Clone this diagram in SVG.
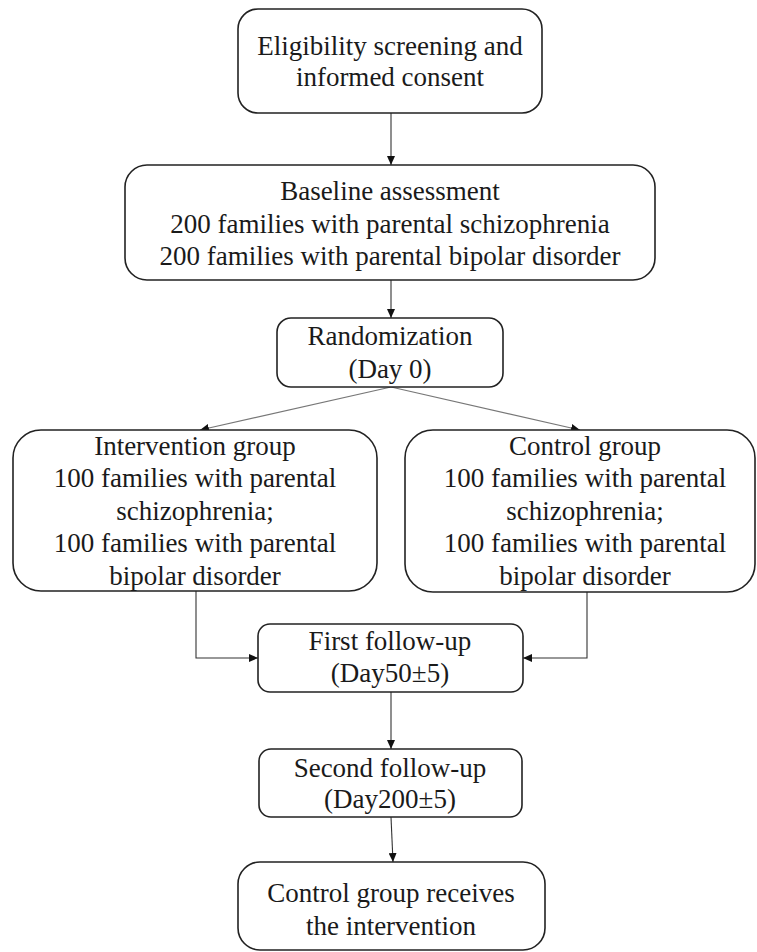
<svg xmlns="http://www.w3.org/2000/svg" width="757" height="952" viewBox="0 0 757 952">
<style>
  .box { fill: #ffffff; stroke: #222222; stroke-width: 1.6; }
  .t { font-family: "Liberation Serif", "Times New Roman", serif; font-size: 27px; fill: #1a1a1a; text-anchor: middle; }
  .c { fill: none; stroke: #333333; stroke-width: 1.1; marker-end: url(#ah); }
  .d { fill: none; stroke: #777777; stroke-width: 1.1; marker-end: url(#ah); }
</style>
<defs>
  <marker id="ah" markerUnits="userSpaceOnUse" markerWidth="10" markerHeight="8" refX="9" refY="4" orient="auto">
    <path d="M0,0 L9,4 L0,8 z" fill="#111111"/>
  </marker>
</defs>
<rect width="757" height="952" fill="#ffffff"/>

<g id="connectors">
  <line class="c" x1="391" y1="113" x2="391" y2="165"/>
  <line class="c" x1="391" y1="280" x2="391" y2="318"/>
  <line class="d" x1="391" y1="387" x2="200" y2="430"/>
  <line class="d" x1="391" y1="387" x2="580" y2="430"/>
  <polyline class="c" points="196,591 196,658 258,658"/>
  <polyline class="c" points="587,592 587,658 523,658"/>
  <line class="c" x1="391" y1="692" x2="391" y2="749"/>
  <line class="c" x1="391" y1="817" x2="393" y2="862"/>
</g>

<g id="eligibility">
  <rect class="box" x="238" y="9" width="304" height="104" rx="20"/>
  <text class="t" x="390" y="55">Eligibility screening and</text>
  <text class="t" x="390" y="86">informed consent</text>
</g>

<g id="baseline">
  <rect class="box" x="125" y="165" width="530" height="115" rx="22"/>
  <text class="t" x="390" y="200">Baseline assessment</text>
  <text class="t" x="390" y="233">200 families with parental schizophrenia</text>
  <text class="t" x="390" y="265">200 families with parental bipolar disorder</text>
</g>

<g id="randomization">
  <rect class="box" x="277" y="318" width="226" height="69" rx="14"/>
  <text class="t" x="390" y="345">Randomization</text>
  <text class="t" x="390" y="378">(Day 0)</text>
</g>

<g id="intervention">
  <rect class="box" x="13" y="430" width="364" height="161" rx="28"/>
  <text class="t" x="195" y="455">Intervention group</text>
  <text class="t" x="195" y="487">100 families with parental</text>
  <text class="t" x="195" y="520">schizophrenia;</text>
  <text class="t" x="195" y="552">100 families with parental</text>
  <text class="t" x="195" y="585">bipolar disorder</text>
</g>

<g id="control">
  <rect class="box" x="405" y="430" width="350" height="162" rx="28"/>
  <text class="t" x="585" y="455">Control group</text>
  <text class="t" x="585" y="487">100 families with parental</text>
  <text class="t" x="585" y="520">schizophrenia;</text>
  <text class="t" x="585" y="552">100 families with parental</text>
  <text class="t" x="585" y="585">bipolar disorder</text>
</g>

<g id="first-followup">
  <rect class="box" x="258" y="624" width="265" height="68" rx="12"/>
  <text class="t" x="390" y="650">First follow-up</text>
  <text class="t" x="390" y="682">(Day50±5)</text>
</g>

<g id="second-followup">
  <rect class="box" x="259" y="749" width="263" height="68" rx="12"/>
  <text class="t" x="390" y="777">Second follow-up</text>
  <text class="t" x="390" y="808">(Day200±5)</text>
</g>

<g id="final">
  <rect class="box" x="238" y="862" width="307" height="88" rx="22"/>
  <text class="t" x="391" y="902">Control group receives</text>
  <text class="t" x="391" y="935">the intervention</text>
</g>
</svg>
